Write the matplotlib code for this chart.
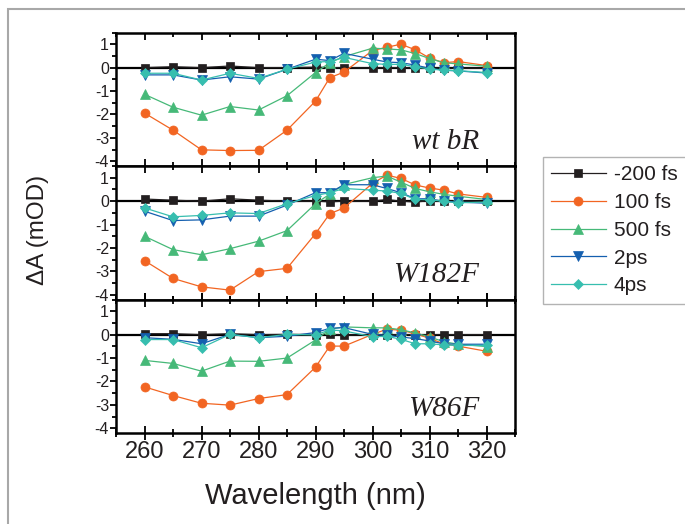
import numpy as np
import matplotlib
matplotlib.use("Agg")
import matplotlib.pyplot as plt
from matplotlib.patches import Rectangle
from matplotlib.ticker import MultipleLocator

# probe wavelengths (nm)
wl = [260, 265, 270, 275, 280, 285, 290, 292.5, 295, 300, 302.5, 305, 307.5, 310, 312.5, 315, 320]

delays = ["-200 fs", "100 fs", "500 fs", "2ps", "4ps"]
samples = ["wt bR", "W182F", "W86F"]

# transient absorption, mOD
wt_m200 = [0.0, 0.04, 0.0, 0.07, 0.0, 0.0, 0.02, 0.0, 0.0, -0.02, 0.0, 0.0, -0.02, -0.02, -0.02, -0.02, -0.02]
wt_100 = [-1.94, -2.67, -3.51, -3.54, -3.53, -2.67, -1.43, -0.43, -0.19, 0.73, 0.87, 1.0, 0.76, 0.41, 0.21, 0.26, 0.09]
wt_500 = [-1.14, -1.69, -2.03, -1.66, -1.81, -1.2, -0.21, 0.21, 0.47, 0.83, 0.8, 0.76, 0.6, 0.39, 0.21, 0.16, 0.06]
wt_2ps = [-0.31, -0.31, -0.53, -0.39, -0.49, -0.07, 0.36, 0.3, 0.61, 0.36, 0.24, 0.21, 0.11, -0.03, -0.11, -0.14, -0.23]
wt_4ps = [-0.24, -0.24, -0.53, -0.24, -0.46, -0.07, 0.24, 0.26, 0.44, 0.17, 0.14, 0.14, 0.04, -0.06, -0.11, -0.13, -0.21]

w182_m200 = [0.09, 0.04, 0.0, 0.1, 0.04, 0.0, 0.0, -0.03, 0.0, 0.0, 0.07, 0.0, -0.04, 0.02, 0.0, 0.0, 0.0]
w182_100 = [-2.54, -3.3, -3.66, -3.8, -3.01, -2.87, -1.39, -0.54, -0.29, 0.76, 1.11, 0.97, 0.69, 0.56, 0.47, 0.31, 0.16]
w182_500 = [-1.5, -2.07, -2.29, -2.03, -1.71, -1.26, -0.11, 0.3, 0.71, 1.0, 1.07, 0.81, 0.54, 0.4, 0.29, 0.21, 0.07]
w182_2ps = [-0.43, -0.83, -0.8, -0.64, -0.64, -0.17, 0.36, 0.36, 0.7, 0.7, 0.54, 0.36, 0.1, 0.1, -0.01, -0.04, -0.09]
w182_4ps = [-0.29, -0.67, -0.61, -0.5, -0.53, -0.11, 0.24, 0.36, 0.54, 0.47, 0.43, 0.33, 0.07, 0.06, -0.01, -0.07, -0.04]

w86_m200 = [0.04, 0.04, 0.0, 0.04, 0.0, 0.01, 0.0, 0.01, -0.02, 0.0, 0.0, 0.0, 0.0, 0.0, 0.0, 0.0, 0.0]
w86_100 = [-2.23, -2.6, -2.93, -3.01, -2.73, -2.56, -1.39, -0.49, -0.49, 0.01, 0.23, 0.19, 0.04, -0.16, -0.39, -0.49, -0.71]
w86_500 = [-1.1, -1.23, -1.56, -1.13, -1.14, -1.0, -0.23, 0.23, 0.33, 0.29, 0.29, 0.21, 0.07, -0.1, -0.3, -0.41, -0.51]
w86_2ps = [-0.13, -0.2, -0.39, 0.01, -0.13, -0.07, 0.09, 0.27, 0.3, 0.01, -0.03, -0.1, -0.17, -0.27, -0.39, -0.41, -0.41]
w86_4ps = [-0.21, -0.21, -0.56, 0.01, -0.13, 0.01, -0.01, 0.2, 0.16, -0.09, -0.07, -0.2, -0.39, -0.39, -0.44, -0.46, -0.46]

panels = [
    [wt_m200, wt_100, wt_500, wt_2ps, wt_4ps],
    [w182_m200, w182_100, w182_500, w182_2ps, w182_4ps],
    [w86_m200, w86_100, w86_500, w86_2ps, w86_4ps],
]

colors = ["#231f20", "#f26522", "#46b978", "#145faf", "#37beaf"]
markers = ["s", "o", "^", "v", "D"]
msizes = [5.5, 6.5, 6.5, 6.5, 5.5]

plt.rcParams["font.family"] = ["Liberation Sans", "DejaVu Sans"]
plt.rcParams["axes.unicode_minus"] = False
txt = "#231f20"

fig = plt.figure(figsize=(6.85, 5.24), dpi=100)

# light frame around the whole figure
fig.patches.append(Rectangle((8 / 685, -0.1), 1.2, 1.1 - 9 / 524, transform=fig.transFigure,
                             fill=False, edgecolor="#a8a8a8", linewidth=1.5))

left, width = 116 / 685, 399 / 685
top = 1 - 32.5 / 524
h = 133.5 / 524

axes = []
for i in range(3):
    ax = fig.add_axes([left, top - (i + 1) * h, width, h])
    axes.append(ax)
    ax.axhline(0, color="black", linewidth=1.6, zorder=1)
    for j in range(5):
        ax.plot(wl, panels[i][j], color=colors[j], marker=markers[j], markersize=msizes[j],
                linewidth=0.9, markeredgewidth=0.5, label=delays[j], zorder=2 + j)
    ax.set_xlim(255, 325)
    ax.set_ylim(-4.2, 1.5)
    ax.xaxis.set_major_locator(MultipleLocator(10))
    ax.xaxis.set_minor_locator(MultipleLocator(5))
    ax.yaxis.set_major_locator(MultipleLocator(1))
    ax.yaxis.set_minor_locator(MultipleLocator(0.5))
    for s in ax.spines.values():
        s.set_linewidth(1.8)
        s.set_color("black")
    ax.tick_params(axis="y", which="both", direction="out", width=1.3, labelsize=11.5,
                   labelcolor=txt, pad=1)
    ax.tick_params(axis="y", which="major", length=4)
    ax.tick_params(axis="y", which="minor", length=3)
    ax.tick_params(axis="x", which="both", direction="in", top=True, width=1.3)
    ax.tick_params(axis="x", which="major", length=5)
    ax.tick_params(axis="x", which="minor", length=3)
    ax.text(0.91, 0.13, samples[i], transform=ax.transAxes, ha="right", va="baseline",
            fontsize=21, family="Liberation Serif", style="italic", color=txt)
    if i < 2:
        ax.tick_params(axis="x", labelbottom=False)

bot = axes[2]
bot.tick_params(axis="x", which="both", direction="inout", labelsize=17, labelcolor=txt, pad=1)
bot.tick_params(axis="x", which="major", length=10)
bot.tick_params(axis="x", which="minor", length=6)

fig.text((116 + 515) / 2 / 685, 1 - 496 / 524, "Wavelength (nm)", ha="center", va="center",
         fontsize=21, color=txt)
fig.text(38 / 685, 1 - 230 / 524, "\u0394A (mOD)", rotation=90, ha="center", va="center",
         fontsize=17.5, color=txt)

leg = fig.legend(*axes[0].get_legend_handles_labels(), loc="upper left",
                 bbox_to_anchor=(543 / 685, 1 - 157 / 524), fontsize=15,
                 frameon=True, fancybox=False, handlelength=2.6, handletextpad=0.4,
                 labelspacing=0.42, borderpad=0.4, borderaxespad=0)
leg.get_frame().set_edgecolor("#a0a0a0")
leg.get_frame().set_linewidth(1.0)
for t in leg.get_texts():
    t.set_color(txt)

fig.savefig("out.png", dpi=100)
